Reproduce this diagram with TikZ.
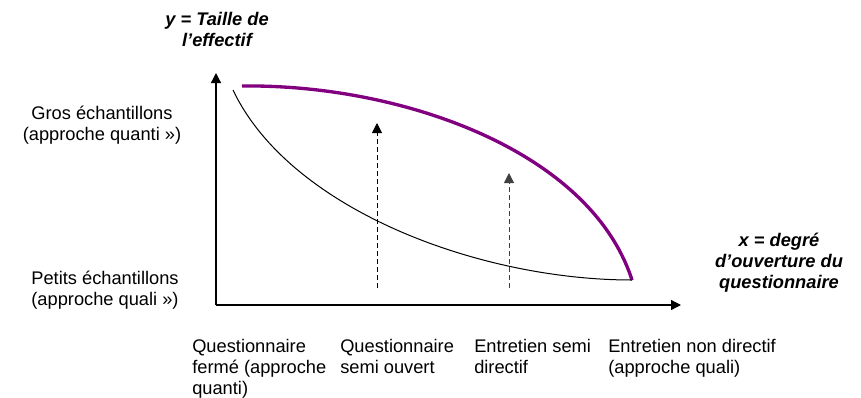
\documentclass[tikz,border=0pt]{standalone}
\usepackage{fontspec}
\setmainfont{Liberation Sans}
\usetikzlibrary{arrows.meta}
\definecolor{violetcourbe}{RGB}{128,0,128}

\begin{document}
\begin{tikzpicture}[x=0.75pt,y=0.75pt,yscale=-1,xscale=1,
    font=\fontsize{13.7}{15.75}\selectfont,
    axe/.style={line width=1pt,-{Triangle[length=7.5pt,width=7.5pt]}},
    fleche/.style={line width=0.75pt,dash pattern={on 3.75pt off 2.25pt},-{Triangle[length=7.5pt,width=7.5pt]}},
    etiquette/.style={inner sep=0pt,align=left,anchor=base west},
    niveau/.style={inner sep=0pt,align=center,anchor=base},
    titre/.style={inner sep=0pt,align=center,anchor=base,font=\fontsize{13.7}{15.75}\selectfont\bfseries\itshape}]
    \useasboundingbox (0,0) rectangle (861,397);

    %Axes
    \coordinate (origine) at (216,305);
    \coordinate (haut) at (216,73);
    \coordinate (droite) at (681,305);
    \draw [axe] (origine) -- (haut);
    \draw [axe] (origine) -- (droite);

    %Curve Lines : effectif
    \coordinate (debutviolet) at (242,86);
    \coordinate (debutnoir) at (233,90);
    \coordinate (fin) at (632,280);
    \draw [color=violetcourbe,line width=2.5pt] (debutviolet) .. controls (400,84) and (590,150) .. (fin);
    \draw [line width=0.75pt] (debutnoir) .. controls (290,210) and (480,280) .. (fin);

    %Straight Lines : dashed arrows
    \coordinate (piedA) at (377,288);
    \coordinate (teteA) at (377,123);
    \coordinate (piedB) at (509,288);
    \coordinate (teteB) at (509,173);
    \draw [fleche] (piedA) -- (teteA);
    \draw [fleche,color=black!75] (piedB) -- (teteB);

    % Text Node (base = last line)
    \node [titre] (titrey) at (217,46) {y = Taille de\\l’effectif};
    % Text Node
    \node [titre] (titrex) at (779,288) {x = degré\\d’ouverture du\\questionnaire};
    % Text Node
    \node [niveau] (gros) at (102,140) {Gros échantillons\\(approche quanti »)};
    % Text Node
    \node [niveau] (petits) at (105,305) {Petits échantillons\\(approche quali »)};
    % Text Node
    \node [etiquette] (ferme) at (192,394) {Questionnaire\\fermé (approche\\quanti)};
    % Text Node
    \node [etiquette] (semiouvert) at (340,373) {Questionnaire\\semi ouvert};
    % Text Node
    \node [etiquette] (semidirectif) at (474,373) {Entretien semi\\directif};
    % Text Node
    \node [etiquette] (nondirectif) at (608,373) {Entretien non directif\\(approche quali)};
\end{tikzpicture}
\end{document}
